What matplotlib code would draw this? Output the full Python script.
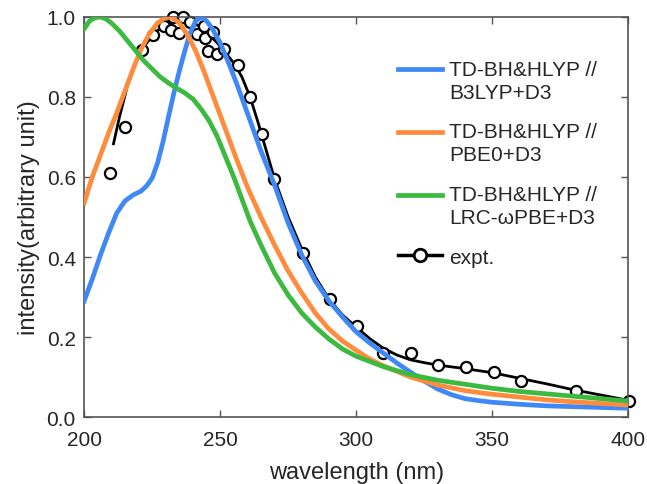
import matplotlib
matplotlib.use("Agg")
import matplotlib.pyplot as plt
from matplotlib.legend_handler import HandlerLine2D

# --- data ---
b3lyp_x = [200, 203, 206, 209, 212, 215, 218, 221, 223, 225, 227, 229, 231, 233, 235, 237,
           239, 241, 243, 245, 247, 250, 253, 256, 260, 265, 270, 275, 280, 285, 290, 295,
           300, 305, 310, 315, 320, 325, 330, 335, 340, 345, 350, 360, 370, 380, 390, 400]
b3lyp_y = [0.29, 0.345, 0.405, 0.46, 0.51, 0.54, 0.555, 0.565, 0.578, 0.597, 0.635, 0.688,
           0.75, 0.81, 0.865, 0.915, 0.96, 0.99, 1.0, 0.99, 0.972, 0.935, 0.887, 0.835,
           0.76, 0.665, 0.58, 0.485, 0.405, 0.34, 0.29, 0.25, 0.213, 0.185, 0.16, 0.135,
           0.112, 0.09, 0.07, 0.056, 0.046, 0.041, 0.037, 0.032, 0.028, 0.026, 0.024, 0.022]

pbe0_x = [200, 203, 206, 209, 212, 215, 218, 221, 224, 227, 230, 232, 235, 238, 241, 244,
          247, 250, 253, 256, 260, 265, 270, 275, 280, 285, 290, 295, 300, 305, 310, 320,
          330, 340, 350, 360, 370, 380, 390, 400]
pbe0_y = [0.535, 0.6, 0.655, 0.71, 0.76, 0.815, 0.87, 0.92, 0.958, 0.985, 0.998, 1.0,
          0.985, 0.955, 0.915, 0.865, 0.81, 0.755, 0.70, 0.645, 0.575, 0.5, 0.43, 0.365,
          0.31, 0.26, 0.22, 0.19, 0.167, 0.145, 0.128, 0.1, 0.08, 0.066, 0.057, 0.05,
          0.043, 0.038, 0.034, 0.03]

lrc_x = [200, 202, 204, 206, 208, 210, 213, 216, 219, 222, 225, 228, 231, 234, 237, 240,
         243, 246, 249, 252, 255, 258, 261, 265, 270, 275, 280, 285, 290, 295, 300, 310,
         320, 330, 340, 350, 360, 370, 380, 390, 400]
lrc_y = [0.97, 0.99, 0.998, 1.0, 0.995, 0.985, 0.965, 0.94, 0.915, 0.89, 0.87, 0.85,
         0.835, 0.822, 0.81, 0.795, 0.77, 0.74, 0.70, 0.65, 0.60, 0.545, 0.49, 0.43,
         0.36, 0.305, 0.26, 0.225, 0.195, 0.17, 0.152, 0.126, 0.106, 0.092, 0.082,
         0.072, 0.064, 0.058, 0.052, 0.046, 0.04]

# smoothed experimental trace
expt_line_x = [210.8, 213, 216, 219, 222, 225, 228, 231, 234, 237, 240, 243, 246, 249, 252,
               255, 258, 261, 264, 267, 270, 275, 280, 285, 290, 295, 300, 305, 310, 315,
               320, 325, 330, 340, 350, 360, 370, 380, 390, 400]
expt_line_y = [0.683, 0.75, 0.83, 0.885, 0.925, 0.953, 0.972, 0.985, 0.99, 0.99, 0.985,
               0.975, 0.955, 0.935, 0.91, 0.885, 0.85, 0.80, 0.735, 0.665, 0.595, 0.5,
               0.42, 0.35, 0.295, 0.255, 0.225, 0.196, 0.172, 0.155, 0.143, 0.136, 0.13,
               0.121, 0.111, 0.097, 0.083, 0.068, 0.055, 0.042]

# experimental points
expt_x = [209.6, 215.1, 221.2, 225.3, 229.5, 231.9, 232.6, 234.7, 236.5, 239.0, 241.4,
          243.9, 244.5, 245.7, 247.4, 248.8, 251.5, 256.4, 261.0, 265.4, 269.8, 280.5,
          290.2, 300.2, 309.9, 320.1, 330.0, 340.4, 350.7, 360.7, 380.7, 400.2]
expt_y = [0.61, 0.725, 0.918, 0.955, 0.978, 0.968, 1.0, 0.96, 1.0, 0.987, 0.957, 0.978,
          0.947, 0.916, 0.962, 0.907, 0.92, 0.88, 0.80, 0.707, 0.595, 0.41, 0.294, 0.2275,
          0.161, 0.161, 0.13, 0.124, 0.113, 0.09, 0.065, 0.04]

labels = ["TD-BH&HLYP //\nB3LYP+D3", "TD-BH&HLYP //\nPBE0+D3",
          "TD-BH&HLYP //\nLRC-\u03c9PBE+D3", "expt."]


class FirstLineHandler(HandlerLine2D):
    # put the legend line level with the first text line (matlab look)
    def __init__(self, shift, **kw):
        super().__init__(**kw)
        self.shift = shift

    def create_artists(self, legend, orig_handle, xdescent, ydescent,
                       width, height, fontsize, trans):
        arts = super().create_artists(legend, orig_handle, xdescent, ydescent,
                                      width, height, fontsize, trans)
        for a in arts:
            a.set_ydata([y + self.shift * fontsize for y in a.get_ydata()])
        return arts


plt.rcParams["font.family"] = ["Liberation Sans", "DejaVu Sans"]
text_col = "#262626"

fig = plt.figure(figsize=(6.47, 4.85), dpi=100)
ax = fig.add_axes([0.130, 0.138, 0.841, 0.825])

# experiment first so the computed curves sit on top
ax.plot(expt_line_x, expt_line_y, color="black", lw=2.0, zorder=2)
ax.plot(expt_x, expt_y, ls="none", marker="o", ms=8, mfc="white", mec="black",
        mew=1.6, zorder=2, clip_on=False)
h1, = ax.plot(b3lyp_x, b3lyp_y, color="#3f88f5", lw=3.4, zorder=3)
h2, = ax.plot(pbe0_x, pbe0_y, color="#ff8b3d", lw=3.4, zorder=3)
h3, = ax.plot(lrc_x, lrc_y, color="#3cb93f", lw=3.4, zorder=3)
h4, = ax.plot([], [], color="black", lw=2.5, marker="o", ms=9, mfc="white",
              mec="black", mew=2)

ax.set_xlim(200, 400)
ax.set_ylim(0, 1.0)
ax.set_xticks([200, 250, 300, 350, 400])
ax.set_yticks([0.0, 0.2, 0.4, 0.6, 0.8, 1.0])
ax.set_yticklabels(["0.0", "0.2", "0.4", "0.6", "0.8", "1.0"])
ax.tick_params(direction="in", length=5, width=1, color="#555555", labelsize=15,
               labelcolor=text_col, top=True, right=True)
ax.tick_params(axis="x", pad=9)
ax.tick_params(axis="y", pad=6)
for sp in ax.spines.values():
    sp.set_color("#555555")
    sp.set_linewidth(1.2)

ax.set_xlabel("wavelength (nm)", fontsize=17, color=text_col, labelpad=9)
ax.set_ylabel("intensity(arbitrary unit)", fontsize=17, color=text_col, labelpad=5)

two_line = FirstLineHandler(0.55)
leg = ax.legend([h1, h2, h3, h4], labels, loc="upper left",
                bbox_to_anchor=(0.577, 0.893), frameon=False, fontsize=15,
                handlelength=2.1, handletextpad=0.35, labelspacing=1.0,
                borderpad=0, borderaxespad=0,
                handler_map={h1: two_line, h2: two_line, h3: two_line})
for t in leg.get_texts():
    t.set_color(text_col)
    t.set_linespacing(1.25)

fig.savefig("out.png", dpi=100)
